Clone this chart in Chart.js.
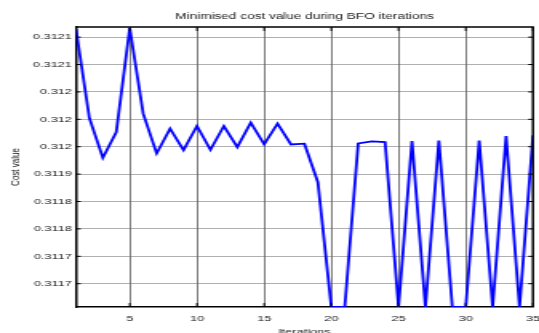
<!DOCTYPE html>
<html>
<head>
<meta charset="utf-8">
<script src="https://cdn.jsdelivr.net/npm/chart.js@4.4.1/dist/chart.umd.min.js"></script>
<style>
  html, body { margin: 0; padding: 0; background: #fff; overflow: hidden; }
  #wrap { width: 337px; height: 340px; transform: scaleX(1.5994); transform-origin: 0 0; }
</style>
</head>
<body>
<div id="wrap"><canvas id="grafico" width="337" height="340"></canvas></div>
<script>
// iteraciones y valor de coste
const iterations = [1, 2, 3, 4, 5, 6, 7, 8, 9, 10, 11, 12, 13, 14, 15, 16, 17, 18,
    19, 20, 21, 22, 23, 24, 25, 26, 27, 28, 29, 30, 31, 32, 33, 34, 35];
const costValues = [
    0.3121648, 0.3120020, 0.3119299, 0.3119767, 0.3121667,
    0.3120104, 0.3119377, 0.3119830, 0.3119438, 0.3119877,
    0.3119445, 0.3119877, 0.3119493, 0.3119940, 0.3119542,
    0.3119921, 0.3119542, 0.3119555, 0.3118852, 0.3116575,
    0.3116575, 0.3119560, 0.3119597, 0.3119584, 0.3116575,
    0.3119603, 0.3116575, 0.3119615, 0.3116575, 0.3116575,
    0.3119615, 0.3116575, 0.3119694, 0.3116575, 0.3119707
];
const xTickValues = [5, 10, 15, 20, 25, 30, 35];
const yTickValues = [0.3117, 0.31175, 0.3118, 0.31185, 0.3119, 0.31195, 0.312, 0.31205, 0.3121, 0.31215];
const yTickLabels = ['0.3117', '0.3117', '0.3118', '0.3118', '0.3119', '0.312', '0.312', '0.312', '0.3121', '0.3121'];

const FONT = "'Liberation Sans', Arial, sans-serif";

// marco superior/derecho y marcas interiores estilo matlab
const marco = {
    id: 'marco',
    afterDraw(chart) {
        const { ctx, chartArea: a, scales: { x, y } } = chart;
        ctx.save();
        ctx.strokeStyle = '#000';
        ctx.lineWidth = 1.5;
        ctx.beginPath();
        ctx.moveTo(a.left, a.top);
        ctx.lineTo(a.right, a.top);
        ctx.lineTo(a.right, a.bottom);
        ctx.stroke();
        ctx.lineWidth = 1;
        ctx.beginPath();
        xTickValues.forEach(v => {
            const px = x.getPixelForValue(v);
            ctx.moveTo(px, a.bottom); ctx.lineTo(px, a.bottom - 4);
            ctx.moveTo(px, a.top); ctx.lineTo(px, a.top + 4);
        });
        yTickValues.forEach(v => {
            const py = y.getPixelForValue(v);
            ctx.moveTo(a.left, py); ctx.lineTo(a.left + 3, py);
            ctx.moveTo(a.right, py); ctx.lineTo(a.right - 3, py);
        });
        ctx.stroke();
        ctx.restore();
    }
};

const ctx = document.getElementById('grafico').getContext('2d');
const myChart = new Chart(ctx, {
    type: 'line',
    data: {
        datasets: [{
            label: 'Cost value',
            data: iterations.map((it, i) => ({ x: it, y: costValues[i] })),
            borderColor: '#0000ff',
            borderWidth: 1.8,
            pointRadius: 0,
            tension: 0,
            fill: false
        }]
    },
    options: {
        responsive: false,
        animation: false,
        devicePixelRatio: 1,
        layout: { padding: { left: 0, right: 3.8, top: 0, bottom: 0 } },
        plugins: {
            legend: { display: false },
            tooltip: { enabled: false },
            title: {
                display: true,
                fullSize: false,
                text: 'Minimised cost value during BFO iterations',
                color: '#1a1a1a',
                font: { family: FONT, size: 8.5, weight: 'normal' },
                padding: { top: 11.4, bottom: 5.4 }
            }
        },
        scales: {
            x: {
                type: 'linear',
                min: 1,
                max: 35,
                afterBuildTicks: s => { s.ticks = xTickValues.map(v => ({ value: v })); },
                afterFit: s => { s.height = 33; s.paddingLeft = 0; s.paddingRight = 0; },
                grid: { color: '#7a7a7a', lineWidth: 1, drawTicks: false },
                border: { display: true, color: '#000', width: 1.5 },
                ticks: {
                    color: '#1a1a1a',
                    padding: 6.7,
                    maxRotation: 0,
                    autoSkip: false,
                    font: { family: FONT, size: 8 },
                    callback: v => String(v)
                },
                title: {
                    display: true,
                    text: 'Iterations',
                    color: '#1a1a1a',
                    font: { family: FONT, size: 8 },
                    padding: { top: 0, bottom: 3.7 }
                }
            },
            y: {
                min: 0.3116575,
                max: 0.3121685,
                afterBuildTicks: s => { s.ticks = yTickValues.map(v => ({ value: v })); },
                afterFit: s => { s.width = 47.5; s.paddingTop = 0; s.paddingBottom = 0; },
                grid: { color: '#606060', lineWidth: 1, drawTicks: false },
                border: { display: true, color: '#000', width: 1.5, dash: [1, 1] },
                ticks: {
                    color: '#1a1a1a',
                    padding: 2.5,
                    autoSkip: false,
                    font: { family: FONT, size: 8 },
                    callback: (v, i) => yTickLabels[i]
                },
                title: {
                    display: true,
                    text: 'Cost value',
                    color: '#1a1a1a',
                    font: { family: FONT, size: 8 },
                    padding: { top: 5.2, bottom: 0 }
                }
            }
        }
    },
    plugins: [marco]
});
</script>
</body>
</html>
